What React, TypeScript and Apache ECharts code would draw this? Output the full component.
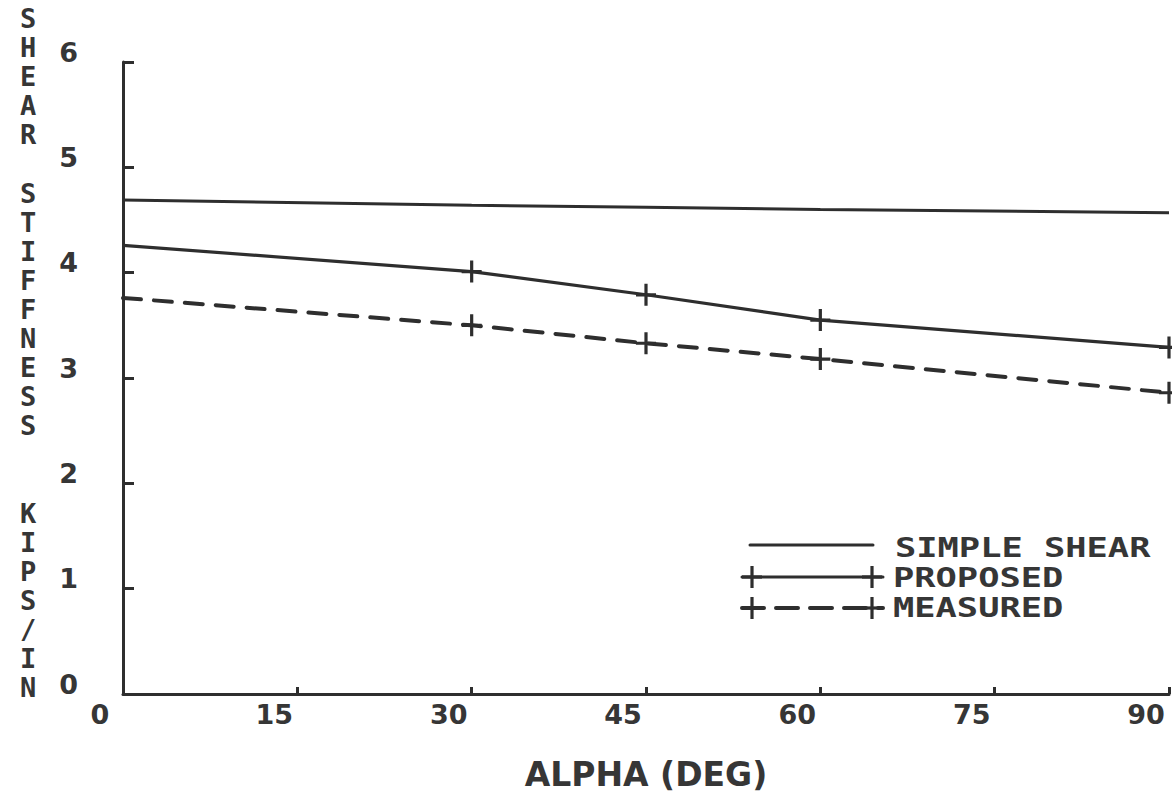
import React, { useEffect, useRef } from "react";
import * as echarts from "echarts";

const alphaDeg = [0, 30, 45, 60, 90];
const simpleShear = [4.69, 4.64, 4.62, 4.6, 4.57];
const proposed = [4.26, 4.01, 3.79, 3.55, 3.29];
const measured = [3.76, 3.5, 3.33, 3.18, 2.86];
const legendNames = ["SIMPLE SHEAR", "PROPOSED", "MEASURED"];
const yTitle = "SHEAR STIFFNESS  KIPS/IN";
const xTitle = "ALPHA (DEG)";

const INK = "#2e2e2e";
const TEXT = "#363636";
const CROSS = "path://M-1.6,-11H1.6V-1.6H10V1.6H1.6V11H-1.6V1.6H-10V-1.6H-1.6Z";

export default function App() {
  const ref = useRef<HTMLDivElement>(null);
  useEffect(() => {
    document.body.style.margin = "0";
    const chart = echarts.init(ref.current!, null, { renderer: "svg" });
    const pts = (vals: number[], marks: boolean) =>
      alphaDeg.map((a, i) =>
        marks && i > 0 ? { value: [a, vals[i]] } : { value: [a, vals[i]], symbol: "none" }
      );
    const monoFont = 'bold 27px "DejaVu Sans Mono"';
    const crossAt = (x: number, y: number) => [
      { type: "rect", shape: { x: x - 1.6, y: y - 11, width: 3.2, height: 22 }, style: { fill: INK } },
      { type: "rect", shape: { x: x - 10, y: y - 1.6, width: 20, height: 3.2 }, style: { fill: INK } },
    ];
    const stacked = yTitle.split("").join("\n");
    chart.setOption({
      animation: false,
      backgroundColor: "#ffffff",
      grid: { left: 123, right: 3, top: 62, bottom: 103 },
      xAxis: {
        type: "value",
        min: 0,
        max: 90,
        interval: 15,
        name: xTitle,
        nameLocation: "middle",
        nameGap: 64,
        nameTextStyle: { fontFamily: "DejaVu Sans", fontWeight: "bold", fontSize: 33, color: TEXT },
        axisLine: { lineStyle: { color: INK, width: 3 } },
        axisTick: { inside: true, length: 7, lineStyle: { color: INK, width: 3 } },
        axisLabel: {
          margin: 7,
          padding: [0, 46, 0, 0],
          fontFamily: "DejaVu Sans",
          fontWeight: "bold",
          fontSize: 27,
          color: TEXT,
        },
        splitLine: { show: false },
      },
      yAxis: {
        type: "value",
        min: 0,
        max: 6,
        interval: 1,
        axisLine: { show: true, lineStyle: { color: INK, width: 3 } },
        axisTick: { show: true, inside: true, length: 11, lineStyle: { color: INK, width: 3 } },
        axisLabel: {
          margin: 45,
          verticalAlign: "bottom",
          lineHeight: 20,
          fontFamily: "DejaVu Sans",
          fontWeight: "bold",
          fontSize: 27,
          color: TEXT,
        },
        splitLine: { show: false },
      },
      legend: { show: false },
      series: [
        {
          name: legendNames[0],
          type: "line",
          data: pts(simpleShear, false),
          symbol: "none",
          lineStyle: { color: INK, width: 3 },
        },
        {
          name: legendNames[1],
          type: "line",
          data: pts(proposed, true),
          symbol: CROSS,
          symbolSize: [20, 22],
          itemStyle: { color: INK },
          lineStyle: { color: INK, width: 3.2 },
        },
        {
          name: legendNames[2],
          type: "line",
          data: pts(measured, true),
          symbol: CROSS,
          symbolSize: [20, 22],
          itemStyle: { color: INK },
          lineStyle: { color: INK, width: 4, type: [18, 13], cap: "round" },
        },
      ],
      graphic: [
        {
          type: "text",
          x: 28,
          y: 4,
          style: { text: stacked, font: monoFont, fill: TEXT, align: "center", lineHeight: 29.1 },
        },
        { type: "line", shape: { x1: 750, y1: 545, x2: 873, y2: 545 }, style: { stroke: INK, lineWidth: 3, lineCap: "round" } },
        { type: "line", shape: { x1: 742, y1: 577, x2: 883, y2: 577 }, style: { stroke: INK, lineWidth: 3, lineCap: "round" } },
        ...crossAt(752, 577),
        ...crossAt(872, 577),
        {
          type: "line",
          shape: { x1: 742, y1: 608, x2: 883, y2: 608 },
          style: { stroke: INK, lineWidth: 4, lineDash: [22, 12], lineCap: "round" },
        },
        ...crossAt(752, 608),
        ...crossAt(872, 608),
        {
          type: "text",
          x: 895,
          y: 548,
          scaleX: 1.31,
          style: { text: legendNames[0], font: monoFont, fill: TEXT, verticalAlign: "middle", align: "left" },
        },
        {
          type: "text",
          x: 893,
          y: 578,
          scaleX: 1.31,
          style: { text: legendNames[1], font: monoFont, fill: TEXT, verticalAlign: "middle", align: "left" },
        },
        {
          type: "text",
          x: 893,
          y: 608,
          scaleX: 1.31,
          style: { text: legendNames[2], font: monoFont, fill: TEXT, verticalAlign: "middle", align: "left" },
        },
      ],
    });
    return () => chart.dispose();
  }, []);
  return <div ref={ref} style={{ position: "absolute", left: 0, top: 0, width: 1172, height: 797 }} />;
}
